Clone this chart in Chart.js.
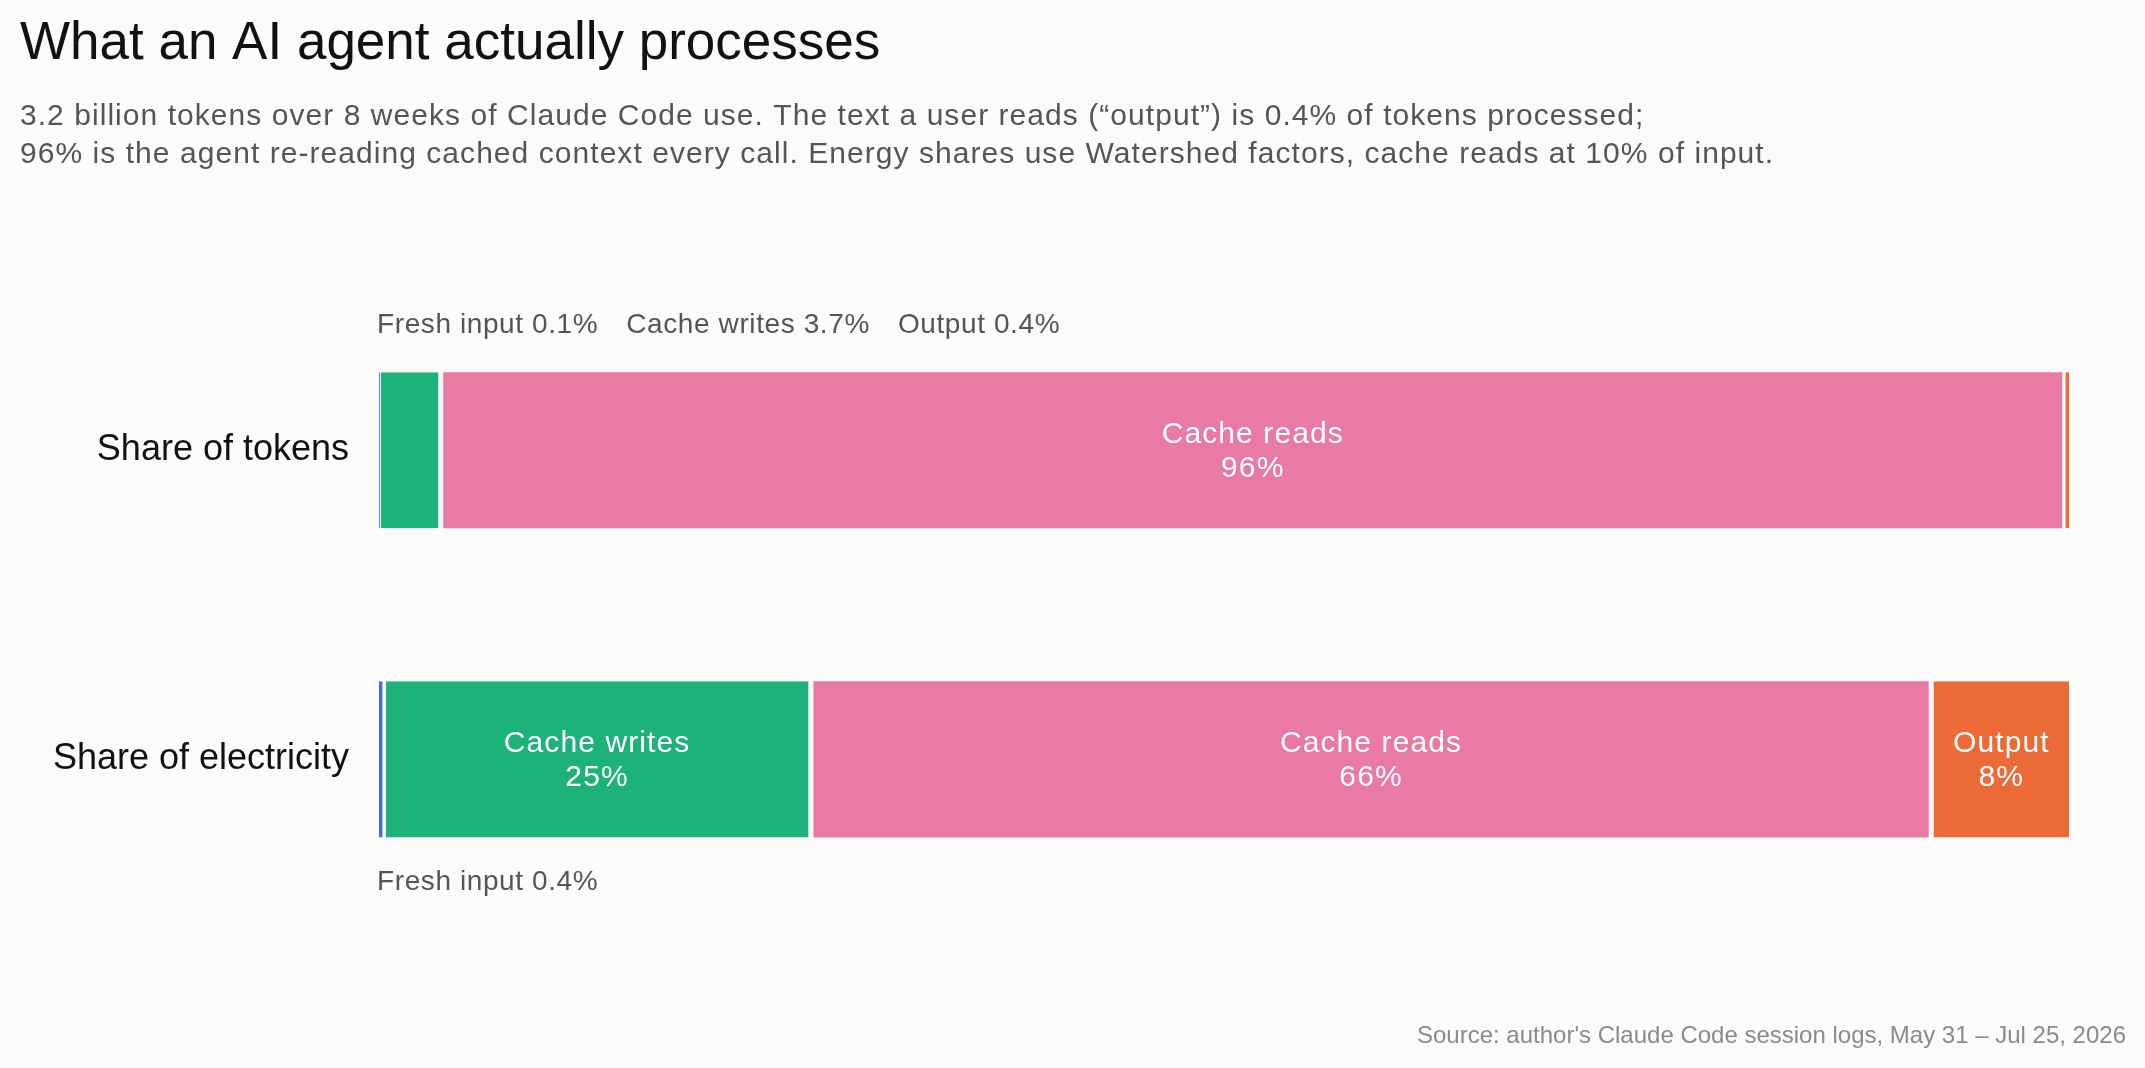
<!DOCTYPE html>
<html>
<head>
<meta charset="utf-8">
<script src="https://cdn.jsdelivr.net/npm/chart.js@4"></script>
<style>
  html, body { margin: 0; padding: 0; background: #fbfbf9; }
  #wrap { width: 2145px; height: 1068px; position: relative; }
</style>
</head>
<body>
<div id="wrap"><canvas id="bar_chart"></canvas></div>
<script>
const bg = "#fbfbf9";
const font = "'Liberation Sans', Arial, Helvetica, sans-serif";

// data
const rows = ["Share of tokens", "Share of electricity"];
const parts = ["Fresh input", "Cache writes", "Cache reads", "Output"];
const freshInput = [0.1, 0.4];
const cacheWrites = [3.7, 25.3];
const cacheReads = [95.8, 66.0];
const output = [0.4, 8.3];
const colors = ["#3b72cf", "#1db17b", "#e87aa3", "#eb6a36"];
const gaps = [{ right: 5 }, { right: 5 }, { right: 0 }, { left: 5 }];

const titleText = "What an AI agent actually processes";
const subtitleText = [
  "3.2 billion tokens over 8 weeks of Claude Code use. The text a user reads (\u201coutput\u201d) is 0.4% of tokens processed;",
  "96% is the agent re-reading cached context every call. Energy shares use Watershed factors, cache reads at 10% of input."
];
const sourceText = "Source: author's Claude Code session logs, May 31 \u2013 Jul 25, 2026";

const series = [freshInput, cacheWrites, cacheReads, output];
const smallCut = 5; // below this a share is named outside the bar

// paints the page colour behind everything
const bgPlugin = {
  id: "bgfill",
  beforeDraw(chart) {
    const c = chart.ctx;
    c.save();
    c.fillStyle = bg;
    c.fillRect(0, 0, chart.width, chart.height);
    c.restore();
  }
};

// subtitle drawn by hand so it can be spaced out a bit
const subtitlePlugin = {
  id: "subtitle2",
  afterDraw(chart) {
    const c = chart.ctx;
    c.save();
    c.font = "30px " + font;
    c.fillStyle = "#555555";
    c.textAlign = "left";
    c.textBaseline = "alphabetic";
    c.letterSpacing = "1.05px";
    subtitleText.forEach((line, i) => c.fillText(line, 20, 125 + i * 37.7));
    c.restore();
  }
};

// names inside big segments, small ones listed above / below the bar
const labelPlugin = {
  id: "seglabels",
  afterDatasetsDraw(chart) {
    const c = chart.ctx;
    const area = chart.chartArea;
    c.save();
    rows.forEach((row, i) => {
      const small = [];
      let top = 0, bottom = 0;
      chart.data.datasets.forEach((ds, d) => {
        const bar = chart.getDatasetMeta(d).data[i];
        const v = ds.data[i];
        top = bar.y - bar.height / 2;
        bottom = bar.y + bar.height / 2;
        if (v < smallCut) {
          small.push(ds.label + " " + v.toFixed(1) + "%");
          return;
        }
        const g = gaps[d];
        const x0 = Math.min(bar.x, bar.base) + (g.left || 0);
        const x1 = Math.max(bar.x, bar.base) - (g.right || 0);
        const cx = (x0 + x1) / 2;
        c.fillStyle = "#ffffff";
        c.font = "30px " + font;
        c.letterSpacing = "1.1px";
        c.textAlign = "center";
        c.textBaseline = "alphabetic";
        c.fillText(ds.label, cx, bar.y - 7);
        c.fillText(Math.round(v) + "%", cx, bar.y + 27);
      });
      c.fillStyle = "#555555";
      c.font = "28px " + font;
      c.letterSpacing = "0.6px";
      c.textAlign = "left";
      c.textBaseline = "alphabetic";
      let x = area.left - 2;
      const y = i === 0 ? top - 39 : bottom + 53;
      small.forEach(t => {
        c.fillText(t, x, y);
        x += c.measureText(t).width + 28;
      });
    });
    c.letterSpacing = "0px";
    c.font = "24px " + font;
    c.fillStyle = "#8a8a8a";
    c.textAlign = "right";
    c.fillText(sourceText, 2126, 1043);
    c.restore();
  }
};

const ctx = document.getElementById("bar_chart").getContext("2d");
window.myBarChart = new Chart(ctx, {
  type: "bar",
  data: {
    labels: rows,
    datasets: parts.map((p, d) => ({
      label: p,
      data: series[d],
      backgroundColor: colors[d],
      borderColor: bg,
      borderWidth: Object.assign({ top: 0, bottom: 0, left: 0, right: 0 }, gaps[d]),
      borderSkipped: false,
      categoryPercentage: 1,
      barPercentage: 0.505,
    })),
  },
  options: {
    indexAxis: "y",
    responsive: true,
    maintainAspectRatio: false,
    animation: false,
    layout: {
      padding: { top: 0, left: 20, right: 76, bottom: 154 },
    },
    scales: {
      x: {
        stacked: true,
        display: false,
        min: 0,
        max: 100,
      },
      y: {
        stacked: true,
        grid: { display: false, drawTicks: false },
        border: { display: false },
        ticks: {
          color: "#111111",
          padding: 30,
          font: { family: font, size: 36 },
        },
        afterFit(axis) {
          axis.width = 359;
        },
      },
    },
    plugins: {
      legend: { display: false },
      tooltip: { enabled: false },
      title: {
        display: true,
        text: titleText,
        align: "start",
        color: "#111111",
        font: { family: font, size: 53, weight: "normal", lineHeight: 1.2 },
        padding: { top: 13, bottom: 219 },
      },
    },
  },
  plugins: [bgPlugin, subtitlePlugin, labelPlugin],
});
</script>
</body>
</html>
